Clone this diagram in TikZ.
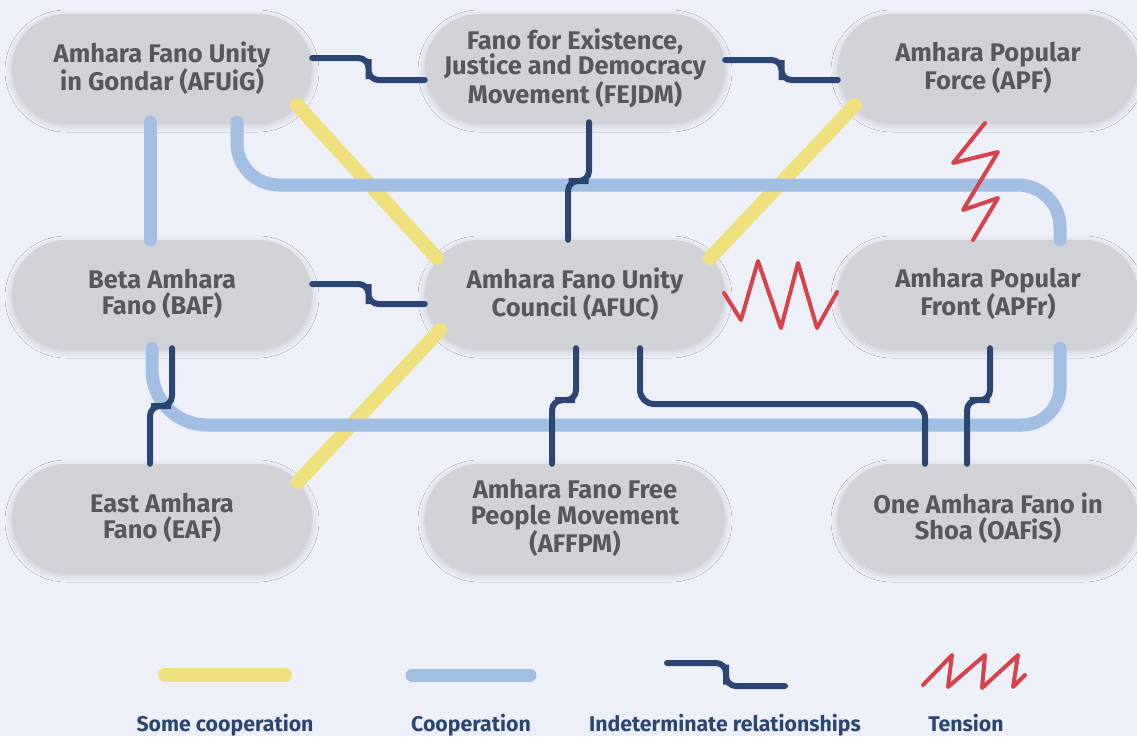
\documentclass[tikz,border=0pt]{standalone}
\usepackage{fontspec}
\setmainfont{Fira Sans}
\usetikzlibrary{calc,shadows.blur}
\definecolor{bg}{HTML}{EDF0F8}
\definecolor{nodefill}{HTML}{D1D2D6}
\definecolor{nodetext}{HTML}{57585B}
\definecolor{ylw}{HTML}{EEE07C}
\definecolor{lblue}{HTML}{A2BFE3}
\definecolor{navy}{HTML}{2B4672}
\definecolor{tred}{HTML}{D6434B}
\tikzset{
  org/.style={rectangle, rounded corners=54pt, minimum width=300pt, minimum height=108pt,
    fill=nodefill, text=nodetext, font=\bfseries\fontsize{25.5}{25.5}\selectfont, align=center, inner sep=0pt,
    blur shadow={shadow xshift=0pt, shadow yshift=-3pt, shadow blur radius=7pt, shadow opacity=18}},
  somecoop/.style={draw=ylw, line width=14pt, line cap=round},
  coop/.style={draw=lblue, line width=13pt, line cap=round, rounded corners=42pt},
  indet/.style={draw=navy, line width=6pt, line cap=round, rounded corners=10pt},
  tensionline/.style={draw=tred, line width=4pt, line cap=round, line join=round},
  legtext/.style={text=navy, font=\bfseries\fontsize{21.3}{22}\selectfont, anchor=base, inner sep=0pt}
}
\begin{document}
\begin{tikzpicture}[x=1pt,y=-1pt]
\fill[bg] (0,0) rectangle (1137,736);
\useasboundingbox (0,0) rectangle (1137,736);

% nodes
\node[org] (afuig) at (162,68) {Amhara Fano Unity\\in Gondar (AFUiG)};
\node[org] (fejdm) at (575,68) {Fano for Existence,\\Justice and Democracy\\Movement (FEJDM)};
\node[org] (apf) at (988,68) {Amhara Popular\\Force (APF)};
\node[org] (baf) at (162,294) {Beta Amhara\\Fano (BAF)};
\node[org] (afuc) at (575,294) {Amhara Fano Unity\\Council (AFUC)};
\node[org] (apfr) at (988,294) {Amhara Popular\\Front (APFr)};
\node[org] (eaf) at (162,518) {East Amhara\\Fano (EAF)};
\node[org] (affpm) at (575,518) {Amhara Fano Free\\People Movement\\(AFFPM)};
\node[org] (oafis) at (988,518) {One Amhara Fano in\\Shoa (OAFiS)};

% helper levels
\coordinate (h1) at (0,185);
\coordinate (h2) at (0,425);

% some cooperation (yellow)
\draw[somecoop] ($(afuig.center)+(135,37)$) -- ($(afuc.center)+(-138,-36)$);
\draw[somecoop] ($(apf.center)+(-133,37)$) -- ($(afuc.center)+(135,-36)$);
\draw[somecoop] ($(afuc.center)+(-135,36)$) -- ($(eaf.center)+(136,-36)$);

% cooperation (blue)
\draw[coop] ([xshift=-12pt]afuig.south) -- ([xshift=-12pt]baf.north);
\coordinate (b1) at ([xshift=75pt]afuig.south);
\coordinate (b2) at ([xshift=72pt]apfr.north);
\draw[coop] (b1) -- (b1 |- h1) -- (b2 |- h1) -- (b2);
\coordinate (c1) at ([xshift=-10pt]baf.south);
\coordinate (c2) at ([xshift=72pt]apfr.south);
\draw[coop, rounded corners=55pt] (c1) -- (c1 |- h2) [rounded corners=38pt] -- (c2 |- h2) -- (c2);

% indeterminate (navy)
\coordinate (n1a) at ([yshift=10pt]afuig.east);
\coordinate (n1b) at ([yshift=-12pt]fejdm.west);
\draw[indet] (n1a) -| ($(n1a)!.5!(n1b)$) |- (n1b);
\coordinate (n2a) at ([yshift=8pt]fejdm.east);
\coordinate (n2b) at ([yshift=-12pt]apf.west);
\draw[indet] (n2a) -| ($(n2a)!.5!(n2b)$) |- (n2b);
\coordinate (n3a) at ([yshift=10pt]baf.east);
\coordinate (n3b) at ([yshift=-10pt]afuc.west);
\draw[indet] (n3a) -| ($(n3a)!.5!(n3b)$) |- (n3b);
\coordinate (n4a) at ([xshift=14pt]fejdm.south);
\coordinate (n4b) at ([xshift=-7pt]afuc.north);
\draw[indet] (n4a) |- ($(n4a)!.5!(n4b)$) -| (n4b);
\coordinate (n5a) at ([xshift=1pt]afuc.south);
\coordinate (n5b) at ([xshift=-23pt]affpm.north);
\draw[indet] (n5a) |- ($(n5a)!.45!(n5b)$) -| (n5b);
\coordinate (n6a) at ([xshift=65pt]afuc.south);
\coordinate (n6b) at ([xshift=-63pt]oafis.north);
\coordinate (h3) at (0,404);
\draw[indet, rounded corners=14pt] (n6a) -- (n6a |- h3) -- (n6b |- h3) -- (n6b);
\coordinate (n7a) at ([xshift=2pt]apfr.south);
\coordinate (n7b) at ([xshift=-21pt]oafis.north);
\draw[indet] (n7a) |- ($(n7a)!.45!(n7b)$) -| (n7b);
\coordinate (n8a) at ([xshift=10pt]baf.south);
\coordinate (n8b) at ([xshift=-12pt]eaf.north);
\draw[indet] (n8a) |- ($(n8a)!.5!(n8b)$) -| (n8b);

% tension (red)
\draw[tensionline] (724,293) -- (741,320) -- (758,261) -- (781,328) -- (798,263) -- (817,328) -- (837,292);
\draw[tensionline] (985,123) -- (953,163) -- (998,152) -- (963,210) -- (998,198) -- (973,240);

% legend
\coordinate (l1a) at (165,675); \coordinate (l1b) at (285,675);
\draw[somecoop] (l1a) -- (l1b);
\coordinate (l2a) at (412,675); \coordinate (l2b) at (530,675);
\draw[coop] (l2a) -- (l2b);
\coordinate (l3a) at (667,663); \coordinate (l3b) at (785,686);
\draw[indet] (l3a) -| ($(l3a)!.5!(l3b)$) |- (l3b);
\draw[tensionline] (923,685) -- (952,655) -- (948,687) -- (985,655) -- (982,688) -- (1018,655) -- (1013,687) -- (1025,675);

\node[legtext] (t1) at (225,731) {Some cooperation};
\node[legtext] (t2) at (471,731) {Cooperation};
\node[legtext] (t3) at (725,731) {Indeterminate relationships};
\node[legtext] (t4) at (966,731) {Tension};
\end{tikzpicture}
\end{document}
